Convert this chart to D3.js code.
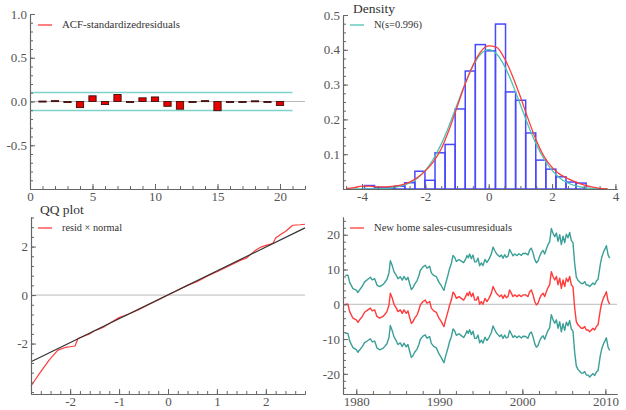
<!DOCTYPE html>
<html><head><meta charset="utf-8">
<script src="https://cdn.jsdelivr.net/npm/d3@7"></script>
<style>
body{margin:0;background:#fff}
svg{display:block}
svg text{font-family:"Liberation Serif",Tinos,"Times New Roman",Times,"DejaVu Serif",serif !important}
</style>
</head><body>
<svg id="c" width="626" height="410"></svg>
<script>
// ---------- DATA ----------
// Panel 1: ACF of standardized residuals
const acfLags   = [1,2,3,4,5,6,7,8,9,10,11,12,13,14,15,16,17,18,19,20];
const acfValues = [0.005,0.01,-0.012,-0.07,0.065,-0.035,0.08,0.0,0.042,0.052,-0.055,-0.088,0.0,0.01,-0.105,0.0,0.0,0.008,0.0,-0.045];
const acfBand = 0.103;
const acfXTicks = [0,5,10,15,20];
const acfYTicks = [-0.5,0,0.5,1.0];

// Panel 2: density histogram
const histEdges   = [-3.921,-3.603,-3.285,-2.967,-2.649,-2.331,-2.013,-1.695,-1.377,-1.059,-0.741,-0.423,-0.105,0.213,0.531,0.849,1.167,1.485,1.803,2.121,2.439,2.757,3.075];
const histDensity = [0.010,0.004,0.004,0.008,0.018,0.051,0.025,0.104,0.128,0.230,0.339,0.415,0.397,0.474,0.279,0.255,0.161,0.083,0.057,0.035,0.020,0.017];
const densX      = [-4.5,-4.25,-4,-3.75,-3.5,-3.25,-3,-2.75,-2.5,-2.25,-2,-1.75,-1.5,-1.25,-1,-0.75,-0.5,-0.25,0,0.25,0.5,0.75,1,1.25,1.5,1.75,2,2.25,2.5,2.75,3,3.25,3.5,3.75];
const densKernel = [0.001,0.004,0.008,0.008,0.006,0.006,0.008,0.012,0.020,0.033,0.052,0.078,0.115,0.170,0.235,0.300,0.355,0.395,0.411,0.407,0.375,0.325,0.265,0.200,0.140,0.093,0.062,0.042,0.030,0.020,0.012,0.006,0.002,0.0005];
const densNormal = [0.00001,0.00004,0.0001,0.0003,0.0008,0.002,0.0043,0.0089,0.0172,0.0312,0.0534,0.0855,0.129,0.182,0.242,0.302,0.353,0.388,0.4005,0.388,0.353,0.302,0.242,0.182,0.129,0.0855,0.0534,0.0312,0.0172,0.0089,0.0043,0.002,0.0008,0.0003];
const densXTicks = [-4,-2,0,2,4];
const densYTicks = [0.1,0.2,0.3,0.4,0.5];

// Panel 3: QQ plot
const qqX = [-2.8,-2.7,-2.6,-2.5,-2.43,-2.35,-2.25,-2.1,-2.0,-1.9,-1.84,-1.7,-1.6,-1.5,-1.4,-1.3,-1.2,-1.1,-1.0,-0.9,-0.8,-0.6,-0.4,-0.2,0,0.2,0.4,0.6,0.8,1.0,1.2,1.4,1.5,1.6,1.7,1.8,1.9,2.0,2.1,2.15,2.2,2.3,2.4,2.5,2.55,2.7,2.8];
const qqY = [-3.75,-3.45,-3.16,-2.88,-2.68,-2.5,-2.27,-2.16,-2.13,-2.1,-1.79,-1.68,-1.6,-1.47,-1.4,-1.3,-1.17,-1.05,-0.93,-0.86,-0.78,-0.6,-0.4,-0.2,0,0.2,0.4,0.56,0.78,0.96,1.16,1.36,1.45,1.52,1.7,1.86,1.98,2.05,2.1,2.15,2.35,2.5,2.62,2.8,2.88,2.9,2.92];
const qqLineX = [-2.8,2.8];
const qqLineY = [-2.75,2.77];
const qqXTicks = [-2,-1,0,1,2];
const qqYTicks = [-2,0,2];

// Panel 4: CUSUM residuals
const cusumYear = [
 1978.67,1979.0,1979.2,1979.6,
 1980.0,1980.2,1980.4,1980.72,
 1981.0,1981.4,1981.69,1981.93,
 1982.21,1982.49,1982.81,
 1983.21,1983.41,1983.69,1983.94,
 1984.1,1984.34,1984.54,1984.82,
 1985.02,1985.3,1985.54,1985.74,
 1986.02,1986.22,1986.43,1986.63,1986.83,
 1987.03,1987.31,1987.55,1987.71,
 1988.03,1988.31,1988.51,1988.84,
 1989.04,1989.32,1989.64,1989.96,
 1990.24,1990.44,1990.56,1990.76,
 1991.04,1991.24,1991.45,1991.65,1991.85,
 1992.05,1992.37,1992.65,1992.93,
 1993.17,1993.33,1993.49,1993.65,1993.86,
 1994.06,1994.26,1994.46,1994.66,1994.86,
 1995.06,1995.26,1995.5,1995.74,1995.98,
 1996.27,1996.47,1996.67,1996.87,
 1997.07,1997.27,1997.47,1997.67,1997.87,
 1998.07,1998.27,1998.47,1998.67,1998.88,
 1999.08,1999.36,1999.6,1999.88,
 2000.08,2000.4,2000.68,2000.88,
 2001.08,2001.29,2001.49,2001.69,2001.89,
 2002.09,2002.29,2002.49,2002.69,2002.89,
 2003.09,2003.29,2003.49,2003.69,2003.9,
 2004.1,2004.3,2004.5,2004.7,2004.9,
 2005.1,2005.3,2005.5,2005.7,2005.9,
 2006.1,2006.3,2006.5,2006.7,2006.9,
 2007.1,2007.31,2007.51,2007.71,2007.91,
 2008.11,2008.31,2008.51,2008.71,2008.92,
 2009.12,2009.24,2009.4,2009.56,2009.8,2009.96,
 2010.12,2010.32,2010.52];
const cusumValue = [
 0,0,-2.1,-4.0,
 -4.5,-5.2,-4.5,-3.5,
 -2.3,-1.6,-1.1,-1.9,
 -1.6,-3.5,-4.0,
 -3.5,-3.0,-2.1,-0.2,
 3.2,1.7,0,-1.1,
 -2.1,-1.6,-2.6,-1.6,
 -2.6,-1.9,-3.8,-5.5,-5.0,
 -4.0,-3.1,-1.6,-0.2,
 0.8,1.2,0.3,0.8,
 -1.1,-1.9,-2.3,-4.0,
 -5.0,-5.9,-6.4,-4.5,
 -2.1,-0.2,1.2,3.5,2.9,
 1.7,2.2,1.7,1.2,
 2.2,3.2,2.5,3.6,2.2,
 3.2,1.2,1.2,2.2,0,
 0.8,0,1.7,0.8,1.7,
 3.2,5.1,4.1,3.2,
 2.7,2.2,2.7,1.7,2.7,
 1.9,2.2,4.1,3.2,2.2,
 2.7,2.2,2.7,2.2,
 2.7,2.7,2.2,3.6,
 4.1,2.7,0.8,-0.2,0.3,
 1.7,2.7,3.2,2.2,3.6,
 4.8,5.6,9.4,8.0,7.0,
 8.0,5.6,7.5,4.6,7.0,
 5.1,7.5,6.5,8.0,5.6,
 5.0,-1.0,-5.0,-5.9,-6.4,
 -6.9,-6.9,-6.4,-7.4,-7.4,
 -7.9,-7.4,-6.9,-7.4,-6.4,
 -5.9,-4.0,-1.5,0.3,2.0,2.7,
 3.6,1.0,0];
const bandYear = [1978.6,1984,1990,1995,2000,2005,2010.6];
const bandHalf = [8.3,9.3,10.3,11.1,11.9,12.6,13.3];
const cusumXTicks = [1980,1990,2000,2010];
const cusumYTicks = [-20,-10,0,10,20];

// ---------- DRAWING ----------
const svg = d3.select("#c");
const AX = "#666", LBL = "#555", RED = "#ff3b3b";
const SERIF = '"Liberation Serif",Tinos,"Times New Roman",Times,"DejaVu Serif",serif';

function axes(x, y, o){
  const g = svg.append("g");
  const y0 = y.range()[0], x0 = x.range()[0];
  g.append("g").attr("transform",`translate(0,${y0})`)
    .call(d3.axisBottom(x).tickValues(o.xMinor).tickSize(-3).tickSizeOuter(0).tickFormat(""));
  g.append("g").attr("transform",`translate(${x0},0)`)
    .call(d3.axisLeft(y).tickValues(o.yMinor).tickSize(-3).tickSizeOuter(0).tickFormat(""));
  g.append("g").attr("transform",`translate(0,${y0})`)
    .call(d3.axisBottom(x).tickValues(o.xTicks).tickSize(-5).tickSizeOuter(0).tickPadding(3).tickFormat(o.xFmt));
  g.append("g").attr("transform",`translate(${x0},0)`)
    .call(d3.axisLeft(y).tickValues(o.yTicks).tickSize(-5).tickSizeOuter(0).tickPadding(3).tickFormat(o.yFmt));
  g.selectAll("g").attr("font-family",SERIF);
  g.selectAll(".domain").attr("stroke",AX).attr("stroke-width",1.1);
  g.selectAll(".tick line").attr("stroke",AX);
  g.selectAll(".tick text").attr("fill",LBL).attr("font-size",13).style("font-family",SERIF);
  return g;
}
function legend(x1, y, color, label, len){
  svg.append("line").attr("x1",x1).attr("x2",x1+14).attr("y1",y).attr("y2",y)
    .attr("stroke",color).attr("stroke-width",1.3);
  svg.append("text").attr("x",x1+24).attr("y",y+3).attr("font-size",10).attr("fill","#333")
    .style("font-family",SERIF)
    .attr("textLength",len).attr("lengthAdjust","spacingAndGlyphs").text(label);
}
const fmtNum = d => (d<0?"-":"") + Math.abs(d);

// ===== Panel 1: ACF =====
{
  const x = d3.scaleLinear().domain([0,22]).range([30,305]);
  const y = d3.scaleLinear().domain([-1,1]).range([189,14]);
  svg.append("line").attr("x1",x(0)).attr("x2",x(22)).attr("y1",y(0)).attr("y2",y(0))
    .attr("stroke","#bbb").attr("stroke-width",1);
  [acfBand,-acfBand].forEach(b=>{
    svg.append("line").attr("x1",x(0)).attr("x2",x(21)).attr("y1",y(b)).attr("y2",y(b))
      .attr("stroke","#7fd3c9").attr("stroke-width",1.3);
  });
  const bw = (x(1)-x(0))*0.58;
  svg.append("g").selectAll("rect").data(d3.zip(acfLags,acfValues)).join("rect")
    .attr("x",d=>x(d[0])-bw/2).attr("width",bw)
    .attr("y",d=>y(Math.max(0,d[1]))).attr("height",d=>Math.max(1,Math.abs(y(d[1])-y(0))))
    .attr("fill","#e80000").attr("stroke","#3a1010").attr("stroke-width",0.9);
  axes(x,y,{xTicks:acfXTicks,yTicks:acfYTicks,xMinor:d3.range(0,23,1),yMinor:d3.range(-1,1.01,0.1),
    xFmt:d=>d, yFmt:d=>(d<0?"-":"")+Math.abs(d).toFixed(1)});
  legend(38,25,RED,"ACF-standardizedresiduals",118);
}

// ===== Panel 2: Density =====
{
  const x = d3.scaleLinear().domain([-4.6,4.05]).range([343,617]);
  const y = d3.scaleLinear().domain([0,0.5]).range([189,15]);
  svg.append("g").selectAll("rect").data(histDensity).join("rect")
    .attr("x",(d,i)=>x(histEdges[i])).attr("width",(d,i)=>x(histEdges[i+1])-x(histEdges[i]))
    .attr("y",d=>y(d)).attr("height",d=>y(0)-y(d))
    .attr("fill","none").attr("stroke","#4848ff").attr("stroke-width",1.5);
  const line = d3.line().x((d,i)=>x(densX[i])).y(d=>y(d)).curve(d3.curveMonotoneX);
  svg.append("path").attr("d",line(densNormal)).attr("fill","none").attr("stroke","#4cc3b2").attr("stroke-width",1.3);
  svg.append("path").attr("d",line(densKernel)).attr("fill","none").attr("stroke",RED).attr("stroke-width",1.3);
  axes(x,y,{xTicks:densXTicks,yTicks:densYTicks,xMinor:d3.range(-4.5,4.01,0.5),yMinor:d3.range(0,0.501,0.025),
    xFmt:fmtNum, yFmt:d=>d.toFixed(1)});
  svg.append("text").attr("x",353).attr("y",13).attr("font-size",13.5).attr("fill","#333").style("font-family",SERIF).text("Density");
  legend(350,25,"#4cc3b2","N(s=0.996)",48);
}

// ===== Panel 3: QQ plot =====
{
  const x = d3.scaleLinear().domain([-2.8,2.8]).range([31,305]);
  const y = d3.scaleLinear().domain([-4.08,3.22]).range([394,217]);
  svg.append("line").attr("x1",x(-2.8)).attr("x2",x(2.8)).attr("y1",y(0)).attr("y2",y(0))
    .attr("stroke","#bbb").attr("stroke-width",1);
  const line = d3.line().x(d=>x(d[0])).y(d=>y(d[1]));
  svg.append("path").attr("d",line(d3.zip(qqX,qqY))).attr("fill","none").attr("stroke",RED).attr("stroke-width",1.2)
    .attr("stroke-linejoin","round");
  svg.append("path").attr("d",line(d3.zip(qqLineX,qqLineY))).attr("fill","none").attr("stroke","#333").attr("stroke-width",1.2);
  axes(x,y,{xTicks:qqXTicks,yTicks:qqYTicks,xMinor:d3.range(-2.8,2.81,0.2),yMinor:d3.range(-4,3.21,0.4),
    xFmt:fmtNum, yFmt:fmtNum});
  svg.append("text").attr("x",40).attr("y",214).attr("font-size",13.5).attr("fill","#333").style("font-family",SERIF).text("QQ plot");
  legend(38,228,RED,"resid × normal",60);
}

// ===== Panel 4: CUSUM =====
{
  const x = d3.scaleLinear().domain([1978.4,2011.4]).range([343,617]);
  const y = d3.scaleLinear().domain([-25.8,25.1]).range([394,217]);
  const half = d3.scaleLinear().domain(bandYear).range(bandHalf);
  svg.append("line").attr("x1",x(1978.4)).attr("x2",x(2011.4)).attr("y1",y(0)).attr("y2",y(0))
    .attr("stroke","#bbb").attr("stroke-width",1);
  const pts = d3.zip(cusumYear,cusumValue);
  const line = d3.line().x(d=>x(d[0])).y(d=>y(d[1]));
  const teal = "#3a9f97";
  svg.append("path").attr("d",line(pts.map(d=>[d[0],d[1]+half(d[0])]))).attr("fill","none")
    .attr("stroke",teal).attr("stroke-width",1.4).attr("stroke-linejoin","round");
  svg.append("path").attr("d",line(pts.map(d=>[d[0],d[1]-half(d[0])]))).attr("fill","none")
    .attr("stroke",teal).attr("stroke-width",1.4).attr("stroke-linejoin","round");
  svg.append("path").attr("d",line(pts)).attr("fill","none")
    .attr("stroke",RED).attr("stroke-width",1.4).attr("stroke-linejoin","round");
  axes(x,y,{xTicks:cusumXTicks,yTicks:cusumYTicks,xMinor:d3.range(1980,2011,2),yMinor:d3.range(-24,25,2),
    xFmt:d=>d, yFmt:fmtNum});
  legend(350,228,RED,"New home sales-cusumresiduals",138);
}
</script>
</body></html>
